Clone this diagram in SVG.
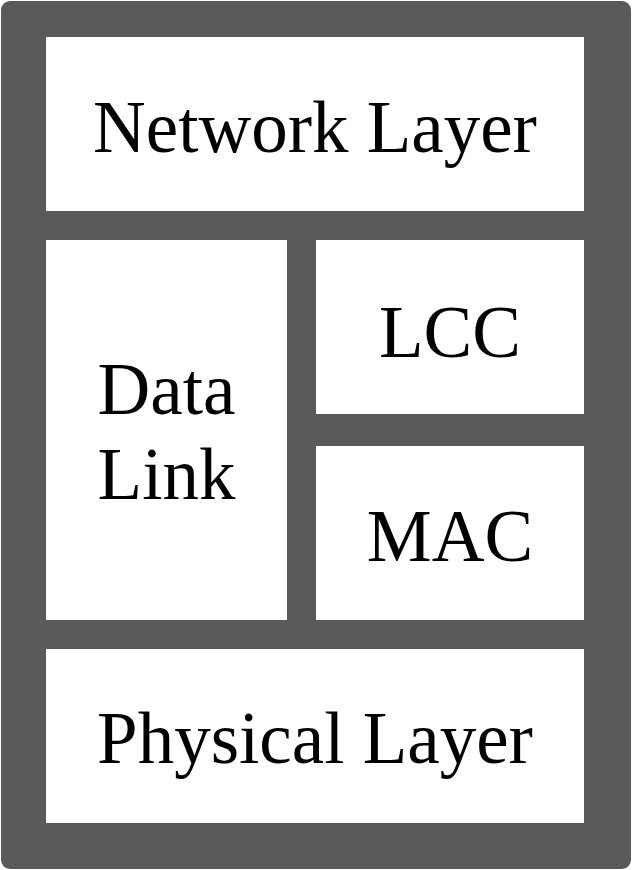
<svg xmlns="http://www.w3.org/2000/svg" width="632" height="870" viewBox="0 0 632 870">
<style>
.box{fill:#ffffff;}
.t{font-family:"Liberation Serif","Times New Roman",serif;font-size:73px;fill:#000;text-anchor:middle;}
</style>
<rect x="0" y="0" width="632" height="870" fill="#ffffff"/>
<rect id="frame" x="1" y="1" width="630" height="868" rx="9" fill="#5a5a5a"/>
<g id="network"><rect class="box" x="46" y="37" width="538" height="174"/><text class="t" x="315" y="152">Network Layer</text></g>
<g id="datalink"><rect class="box" x="46" y="240" width="241" height="380"/><text class="t" x="166.5" y="414">Data</text><text class="t" x="166.5" y="499">Link</text></g>
<g id="lcc"><rect class="box" x="316" y="240" width="268" height="174"/><text class="t" x="450" y="357">LCC</text></g>
<g id="mac"><rect class="box" x="316" y="446" width="268" height="174"/><text class="t" x="450" y="561">MAC</text></g>
<g id="physical"><rect class="box" x="46" y="649" width="538" height="174"/><text class="t" x="315" y="763">Physical Layer</text></g>
<g id="connectors"></g>
</svg>
